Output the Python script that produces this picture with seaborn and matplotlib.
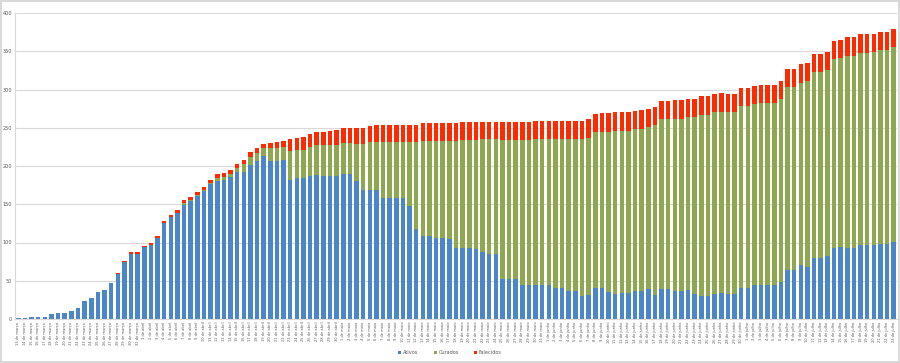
import matplotlib
matplotlib.use("Agg")
import matplotlib.pyplot as plt
import seaborn as sns
import pandas as pd
import numpy as np
import datetime as dt
from matplotlib.patches import Patch

# ---- data ----
months_pt = ["janeiro", "fevereiro", "março", "abril", "maio", "junho",
             "julho", "agosto", "setembro", "outubro", "novembro", "dezembro"]
start = dt.date(2020, 3, 13)
n_days = 133
dates = [start + dt.timedelta(days=k) for k in range(n_days)]
labels = [f"{d.day} de {months_pt[d.month - 1]}" for d in dates]

ativos = [1, 1, 2, 3, 3, 6, 8, 8, 10, 15, 24, 27, 35, 38, 47, 59, 75, 85, 85, 94,
          97, 106, 125, 133, 138, 149, 154, 161, 167, 176, 180, 182, 185, 192, 192, 201, 206, 213, 207, 207,
          208, 182, 184, 184, 187, 188, 187, 187, 187, 190, 190, 180, 169, 169, 168, 158, 158, 158, 158, 148,
          117, 109, 109, 106, 106, 104, 93, 93, 93, 91, 88, 85, 85, 52, 52, 52, 44, 44, 44, 44,
          44, 40, 40, 36, 36, 30, 32, 40, 40, 35, 33, 34, 34, 36, 37, 39, 32, 39, 39, 36,
          36, 38, 33, 30, 30, 33, 34, 33, 33, 41, 41, 44, 44, 44, 44, 49, 64, 64, 70, 68,
          80, 80, 83, 93, 94, 93, 93, 97, 97, 97, 98, 98, 101]
curados = [0, 0, 0, 0, 0, 0, 0, 0, 0, 0, 0, 0, 0, 0, 0, 0, 0, 0, 0, 0,
           0, 0, 0, 0, 0, 2, 2, 1, 1, 2, 4, 4, 4, 5, 10, 11, 11, 10, 17, 17,
           17, 37, 37, 37, 38, 39, 40, 41, 41, 40, 40, 49, 60, 62, 63, 73, 73, 74, 74, 83,
           114, 124, 124, 127, 127, 129, 140, 141, 141, 143, 147, 150, 150, 182, 182, 182, 190, 190, 191, 191,
           191, 195, 195, 199, 199, 205, 205, 204, 205, 210, 213, 212, 212, 212, 212, 212, 221, 222, 222, 226,
           226, 226, 231, 237, 237, 237, 237, 237, 237, 237, 237, 237, 238, 238, 238, 238, 239, 239, 239, 243,
           243, 243, 242, 247, 247, 251, 251, 251, 251, 252, 253, 253, 254]
falecidos = [0, 0, 0, 0, 0, 0, 0, 0, 0, 0, 0, 0, 0, 0, 0, 1, 1, 2, 2, 2,
             2, 3, 3, 3, 4, 4, 4, 4, 4, 4, 5, 5, 6, 6, 6, 6, 6, 6, 6, 7,
             8, 16, 16, 17, 17, 18, 18, 18, 19, 20, 20, 21, 21, 21, 22, 22, 22, 22, 22, 23,
             23, 23, 23, 23, 23, 23, 23, 23, 23, 23, 23, 23, 23, 24, 24, 24, 24, 24, 24, 24,
             24, 24, 24, 24, 24, 24, 24, 24, 24, 24, 24, 24, 24, 24, 24, 24, 24, 24, 24, 24,
             24, 24, 24, 24, 24, 24, 24, 24, 24, 24, 24, 24, 24, 24, 24, 24, 24, 24, 24, 24,
             24, 24, 24, 24, 24, 24, 24, 24, 24, 24, 24, 24, 24]
series_names = ["Ativos", "Curados", "Falecidos"]
colors = ["#4a86c8", "#8ea852", "#ff2a00"]
yticks = list(range(0, 401, 50))

df = pd.DataFrame({"data": labels, "Ativos": ativos, "Curados": curados,
                   "Falecidos": falecidos})
df["lvl1"] = df["Ativos"]
df["lvl2"] = df["Ativos"] + df["Curados"]
df["lvl3"] = df["lvl2"] + df["Falecidos"]

sns.set_theme(style="white")
plt.rcParams["font.family"] = ["DejaVu Sans"]

fig = plt.figure(figsize=(9, 3.63), dpi=100)
ax = fig.add_axes([15 / 900, 1 - 319 / 363, 882 / 900, 306 / 363])

for col, c in zip(["lvl3", "lvl2", "lvl1"], [colors[2], colors[1], colors[0]]):
    sns.barplot(data=df, x="data", y=col, order=labels, color=c, ax=ax,
                width=0.68, saturation=1, linewidth=0, errorbar=None)

ax.set_ylim(0, 400)
ax.set_xlim(-0.5, n_days - 0.5)
ax.set_yticks(yticks)
ax.set_yticklabels([str(v) for v in yticks], fontsize=3.6, color="#595959")
ax.set_xticks(range(n_days))
ax.set_xticklabels(labels, rotation=90, fontsize=2.6, color="#595959")
ax.tick_params(axis="both", length=0, pad=2)
ax.set_xlabel("")
ax.set_ylabel("")
ax.yaxis.grid(True, color="#d9d9d9", linewidth=0.8)
ax.set_axisbelow(True)
for s in ["top", "right"]:
    ax.spines[s].set_visible(False)
ax.spines["left"].set_color("#d9d9d9")
ax.spines["bottom"].set_color("#d9d9d9")
ax.spines["left"].set_linewidth(0.8)
ax.spines["bottom"].set_linewidth(0.8)

handles = [Patch(facecolor=c, edgecolor="none") for c in colors]
fig.legend(handles, series_names, loc="center", bbox_to_anchor=(0.5, 1 - 353 / 363),
           ncol=3, frameon=False, fontsize=3.6, handlelength=0.6, handleheight=0.6,
           columnspacing=3.0, handletextpad=0.4, labelcolor="#595959")

fig.patch.set_edgecolor("#d9d9d9")
fig.patch.set_linewidth(1.5)
fig.savefig("out.png", dpi=100, edgecolor=fig.get_edgecolor())
